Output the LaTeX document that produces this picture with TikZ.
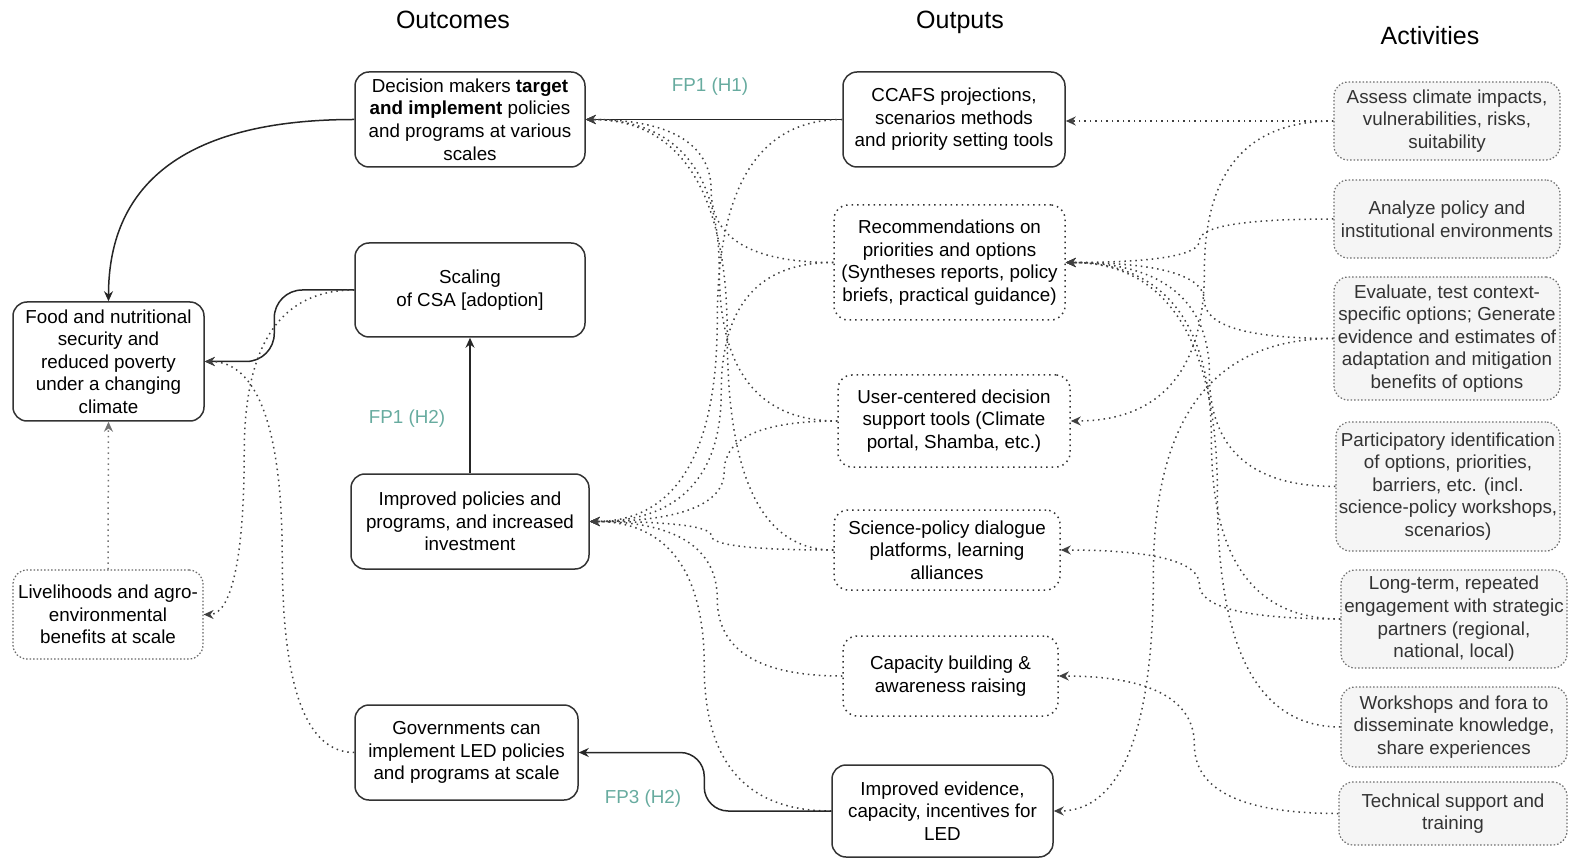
\documentclass[tikz,border=0pt]{standalone}
\usepackage{fontspec}
\setmainfont{Liberation Sans}
\usetikzlibrary{arrows.meta,calc}
\definecolor{fpteal}{RGB}{103,171,159}
\definecolor{actfill}{RGB}{245,245,245}
\definecolor{actline}{RGB}{110,110,110}
\tikzset{
  sz/.style 2 args={minimum width={#1*0.5pt}, minimum height={#2*0.5pt}},
  box/.style={draw=black!80, line width=0.75pt, rounded corners=7pt, align=center,
    inner sep=0pt, font=\fontsize{9.4}{11.3}\selectfont},
  dotbox/.style={box, dotted},
  livbox/.style={box, draw=black!60, densely dotted, line width=0.6pt},
  actbox/.style={box, draw=actline, fill=actfill, text=black!80, densely dotted, line width=0.6pt},
  lnk/.style={draw=black!75, dotted, line width=0.75pt,
    -{Stealth[length=5pt,width=4.5pt]}},
  sol/.style={draw=black!85, line width=0.75pt,
    -{Stealth[length=5pt,width=4.5pt]}},
  fp/.style={text=fpteal, font=\fontsize{9.4}{11.3}\selectfont},
  coltitle/.style={anchor=base, font=\fontsize{12.5}{14}\selectfont}
}
% curved link: leaves #2 sideways, runs down/up at dx=#4, enters #3 sideways
\newcommand{\bendlink}[4][lnk]{%
  \path (#2) ++(#4,0) coordinate (bk1);
  \path (bk1 |- #3) coordinate (bk2);
  \path ($(bk1)!0.5!(bk2)$) coordinate (bkm);
  \draw[#1] (#2) .. controls ($(#2)!0.667!(bk1)$) and ($(bkm)!0.667!(bk1)$) .. (bkm)
    .. controls ($(bkm)!0.667!(bk2)$) and ($(#3)!0.667!(bk2)$) .. (#3);
}
\begin{document}
\begin{tikzpicture}[x=0.5pt, y=-0.5pt]
  \useasboundingbox (0,0) rectangle (1572,860);
  % column titles
  \node[coltitle] (toutc) at (453,29) {Outcomes};
  \node[coltitle] (toutp) at (960,29) {Outputs};
  \node[coltitle] (tact) at (1430,45) {Activities};

  % outcomes
  \node[box, sz={230}{95}] (dm) at (470,119.5) {Decision makers \textbf{target}\\\textbf{and implement} policies\\and programs at various\\scales};
  \node[box, sz={230}{94}] (scal) at (470,290) {Scaling\\of CSA [adoption]};
  \node[box, sz={238}{95}] (ip) at (470,521.5) {Improved policies and\\programs, and increased\\investment};
  \node[box, sz={223}{95}] (gov) at (466.5,752.5) {Governments can\\implement LED policies\\and programs at scale};
  \node[box, sz={191}{119}] (food) at (108.5,361.5) {Food and nutritional\\security and\\reduced poverty\\under a changing\\climate};
  \node[livbox, sz={190}{89}] (liv) at (108,614.5) {Livelihoods and agro-\\environmental\\benefits at scale};

  % outputs
  \node[box, sz={222}{95}] (ccafs) at (954,119.5) {CCAFS projections,\\scenarios methods\\and priority setting tools};
  \node[dotbox, sz={231}{115}] (rec) at (949.5,262.5) {Recommendations on\\priorities and options\\(Syntheses reports, policy\\briefs, practical guidance)};
  \node[dotbox, sz={232}{92}] (uc) at (954,421) {User-centered decision\\support tools (Climate\\portal, Shamba, etc.)};
  \node[dotbox, sz={226}{80}] (sp) at (947,550) {Science-policy dialogue\\platforms, learning\\alliances};
  \node[dotbox, sz={215}{80}] (cap) at (950.5,676) {Capacity building \&\\awareness raising};
  \node[box, sz={221}{92}] (impev) at (942.5,811) {Improved evidence,\\capacity, incentives for\\LED};

  % activities
  \node[actbox, sz={226}{78}] (a1) at (1447,121) {Assess climate impacts,\\vulnerabilities, risks,\\suitability};
  \node[actbox, sz={226}{78}] (a2) at (1447,219) {Analyze policy and\\institutional environments};
  \node[actbox, sz={226}{123}] (a3) at (1447,338.5) {Evaluate, test context-\\specific options; Generate\\evidence and estimates of\\adaptation and mitigation\\benefits of options};
  \node[actbox, sz={224}{129}] (a4) at (1448,486.5) {Participatory identification\\of options, priorities,\\barriers, etc. (incl.\\science-policy workshops,\\scenarios)};
  \node[actbox, sz={226}{98}] (a5) at (1454,619) {Long-term, repeated\\engagement with strategic\\partners (regional,\\national, local)};
  \node[actbox, sz={226}{80}] (a6) at (1454,727) {Workshops and fora to\\disseminate knowledge,\\share experiences};
  \node[actbox, sz={228}{63}] (a7) at (1453,813.5) {Technical support and\\training};

  % activities to outputs
  \draw[lnk] (a1.west) -- (a1.west -| ccafs.east);
  \bendlink{a1.west}{uc.east}{-129}
  \bendlink{a2.west}{rec.east}{-134}
  \bendlink{a3.west}{rec.east}{-129}
  \bendlink{a3.west}{impev.east}{-180}
  \bendlink{a4.west}{rec.east}{-126}
  \bendlink{a5.west}{rec.east}{-129}
  \bendlink{a5.west}{sp.east}{-141}
  \bendlink{a6.west}{rec.east}{-123}
  \bendlink{a7.west}{cap.east}{-144}

  % outputs to outcomes
  \draw[sol] (ccafs.west) -- (dm.east);
  \bendlink{ccafs.west}{ip.east}{-125}
  \bendlink{rec.west}{dm.east}{-122}
  \bendlink{rec.west}{ip.east}{-112}
  \bendlink{uc.west}{dm.east}{-118}
  \bendlink{uc.west}{ip.east}{-113}
  \bendlink{sp.west}{dm.east}{-106}
  \bendlink{sp.west}{ip.east}{-122}
  \bendlink{cap.west}{ip.east}{-125}
  \bendlink{impev.west}{ip.east}{-127}
  \draw[sol, rounded corners=12pt] (impev.west) -- ++(-127,0) |- (gov.east);

  % between outcomes
  \draw[sol] (ip.north) -- (scal.south);
  \draw[sol] (dm.west) .. controls ($(dm.west)!0.667!(dm.west -| food.north)$) and ($(food.north)!0.667!(dm.west -| food.north)$) .. (food.north);
  \draw[sol, rounded corners=14pt] (scal.west) -- ++(-80,0) |- (food.east);
  \bendlink{scal.west}{liv.east}{-110}
  \bendlink{gov.west}{food.east}{-72}
  \draw[lnk, draw=black!55] (liv.north) -- (food.south);

  % flagship labels
  \node[fp] (fph1) at (710,87) {FP1 (H1)};
  \node[fp] (fph2) at (407,419) {FP1 (H2)};
  \node[fp] (fp3) at (643,799) {FP3 (H2)};
\end{tikzpicture}
\end{document}
